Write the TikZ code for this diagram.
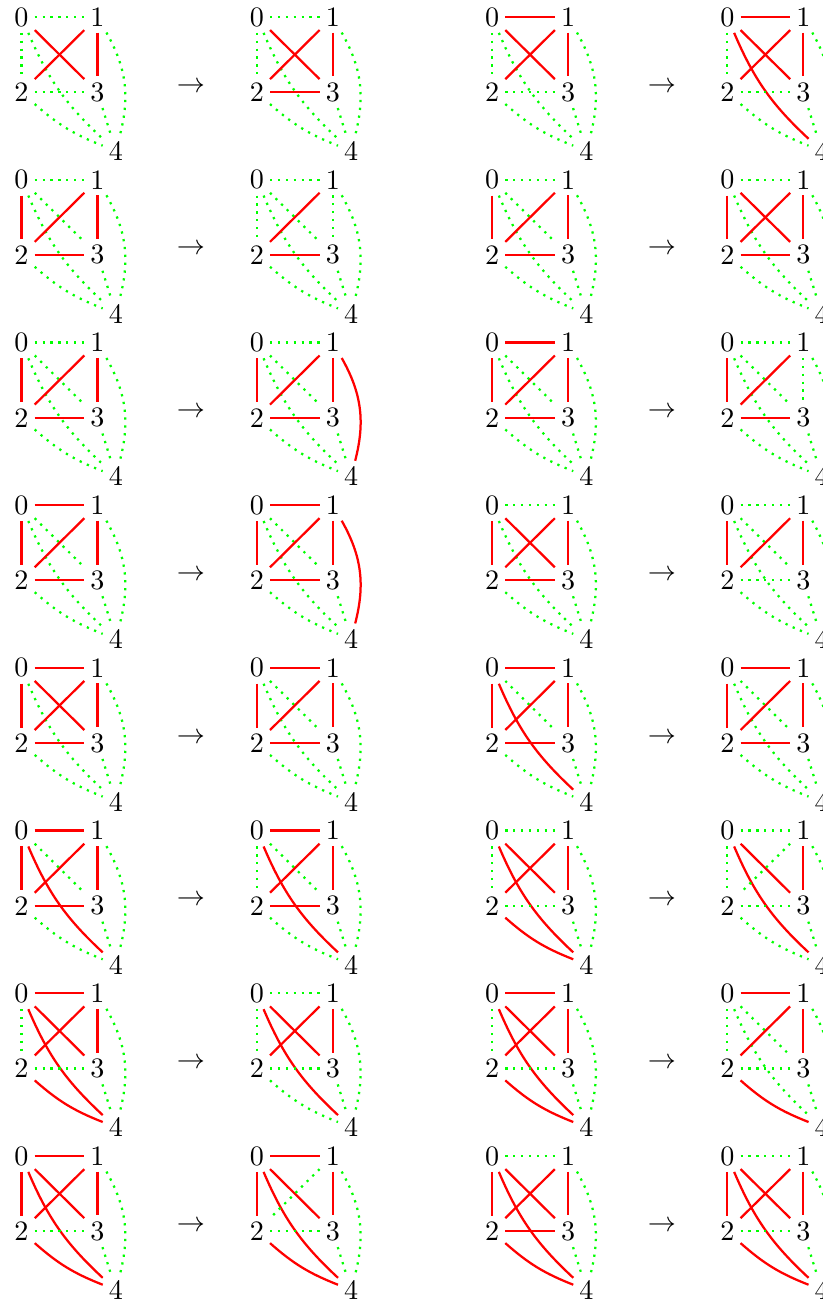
\documentclass[tikz,border=0pt]{standalone}

\tikzset{
  vertex/.style={inner sep=2pt},
  hotedge/.style={thick, red},
  coldedge/.style={thick, green, dotted},
  hot/.style={e#1/.style=hotedge},
}

% K5 at column #1, row #2, with the red edges #3
\newcommand{\kfive}[3]{%
  \begin{scope}[shift={({0.269+2.941*#1},{-0.2125-2.034*#2})},
      e01/.style=coldedge, e02/.style=coldedge, e03/.style=coldedge,
      e04/.style=coldedge, e12/.style=coldedge, e13/.style=coldedge,
      e14/.style=coldedge, e23/.style=coldedge, e24/.style=coldedge,
      e34/.style=coldedge, hot/.list={#3}]
    \node[vertex] (g#2#1-0) at (0,0) {0};
    \node[vertex] (g#2#1-1) at (0.95,0) {1};
    \node[vertex] (g#2#1-2) at (0,-0.94) {2};
    \node[vertex] (g#2#1-3) at (0.95,-0.94) {3};
    \node[vertex] (g#2#1-4) at (1.18,-1.675) {4};
    \draw[e01] (g#2#1-0) -- (g#2#1-1);
    \draw[e02] (g#2#1-0) -- (g#2#1-2);
    \draw[e03] (g#2#1-0) -- (g#2#1-3);
    \draw[e04] (g#2#1-0) to[bend right=12] (g#2#1-4);
    \draw[e12] (g#2#1-1) -- (g#2#1-2);
    \draw[e13] (g#2#1-1) -- (g#2#1-3);
    \draw[e14] (g#2#1-1) to[bend left=22] (g#2#1-4);
    \draw[e23] (g#2#1-2) -- (g#2#1-3);
    \draw[e24] (g#2#1-2) to[bend right=10] (g#2#1-4);
    \draw[e34] (g#2#1-3) -- (g#2#1-4);
  \end{scope}}

\begin{document}
\begin{tikzpicture}
  \useasboundingbox (0,0) rectangle (10.2875,-16.275);

  % arrows
  \foreach \r in {0,...,7} {
    \node (arrL\r) at (2.3875,{-1.0875-2.034*\r}) {$\to$};
    \node (arrR\r) at (8.275,{-1.0875-2.034*\r}) {$\to$};
  }

  % row 1
  \kfive{0}{0}{03,12,13}
  \kfive{1}{0}{03,12,13,23}
  \kfive{2}{0}{01,03,12,13}
  \kfive{3}{0}{01,03,04,12,13}
  % row 2
  \kfive{0}{1}{02,12,13,23}
  \kfive{1}{1}{12,23}
  \kfive{2}{1}{02,12,13,23}
  \kfive{3}{1}{02,03,12,13,23}
  % row 3
  \kfive{0}{2}{02,12,13,23}
  \kfive{1}{2}{02,12,13,14,23}
  \kfive{2}{2}{01,02,12,13,23}
  \kfive{3}{2}{02,12,23}
  % row 4
  \kfive{0}{3}{01,02,12,13,23}
  \kfive{1}{3}{01,02,12,13,14,23}
  \kfive{2}{3}{02,03,12,13,23}
  \kfive{3}{3}{02,12,13}
  % row 5
  \kfive{0}{4}{01,02,03,12,13,23}
  \kfive{1}{4}{01,02,12,13,23}
  \kfive{2}{4}{01,02,04,12,13,23}
  \kfive{3}{4}{01,02,12,13,23}
  % row 6
  \kfive{0}{5}{01,02,04,12,13,23}
  \kfive{1}{5}{01,04,12,13,23}
  \kfive{2}{5}{03,04,12,13,24}
  \kfive{3}{5}{03,04,13}
  % row 7
  \kfive{0}{6}{01,03,04,12,13,24}
  \kfive{1}{6}{03,04,12,13}
  \kfive{2}{6}{01,03,04,12,13,24}
  \kfive{3}{6}{01,12,13,24}
  % row 8
  \kfive{0}{7}{01,02,03,04,12,13,24}
  \kfive{1}{7}{01,02,03,04,13,24}
  \kfive{2}{7}{02,03,04,12,13,23,24}
  \kfive{3}{7}{02,03,04,12,13,24}
\end{tikzpicture}
\end{document}
